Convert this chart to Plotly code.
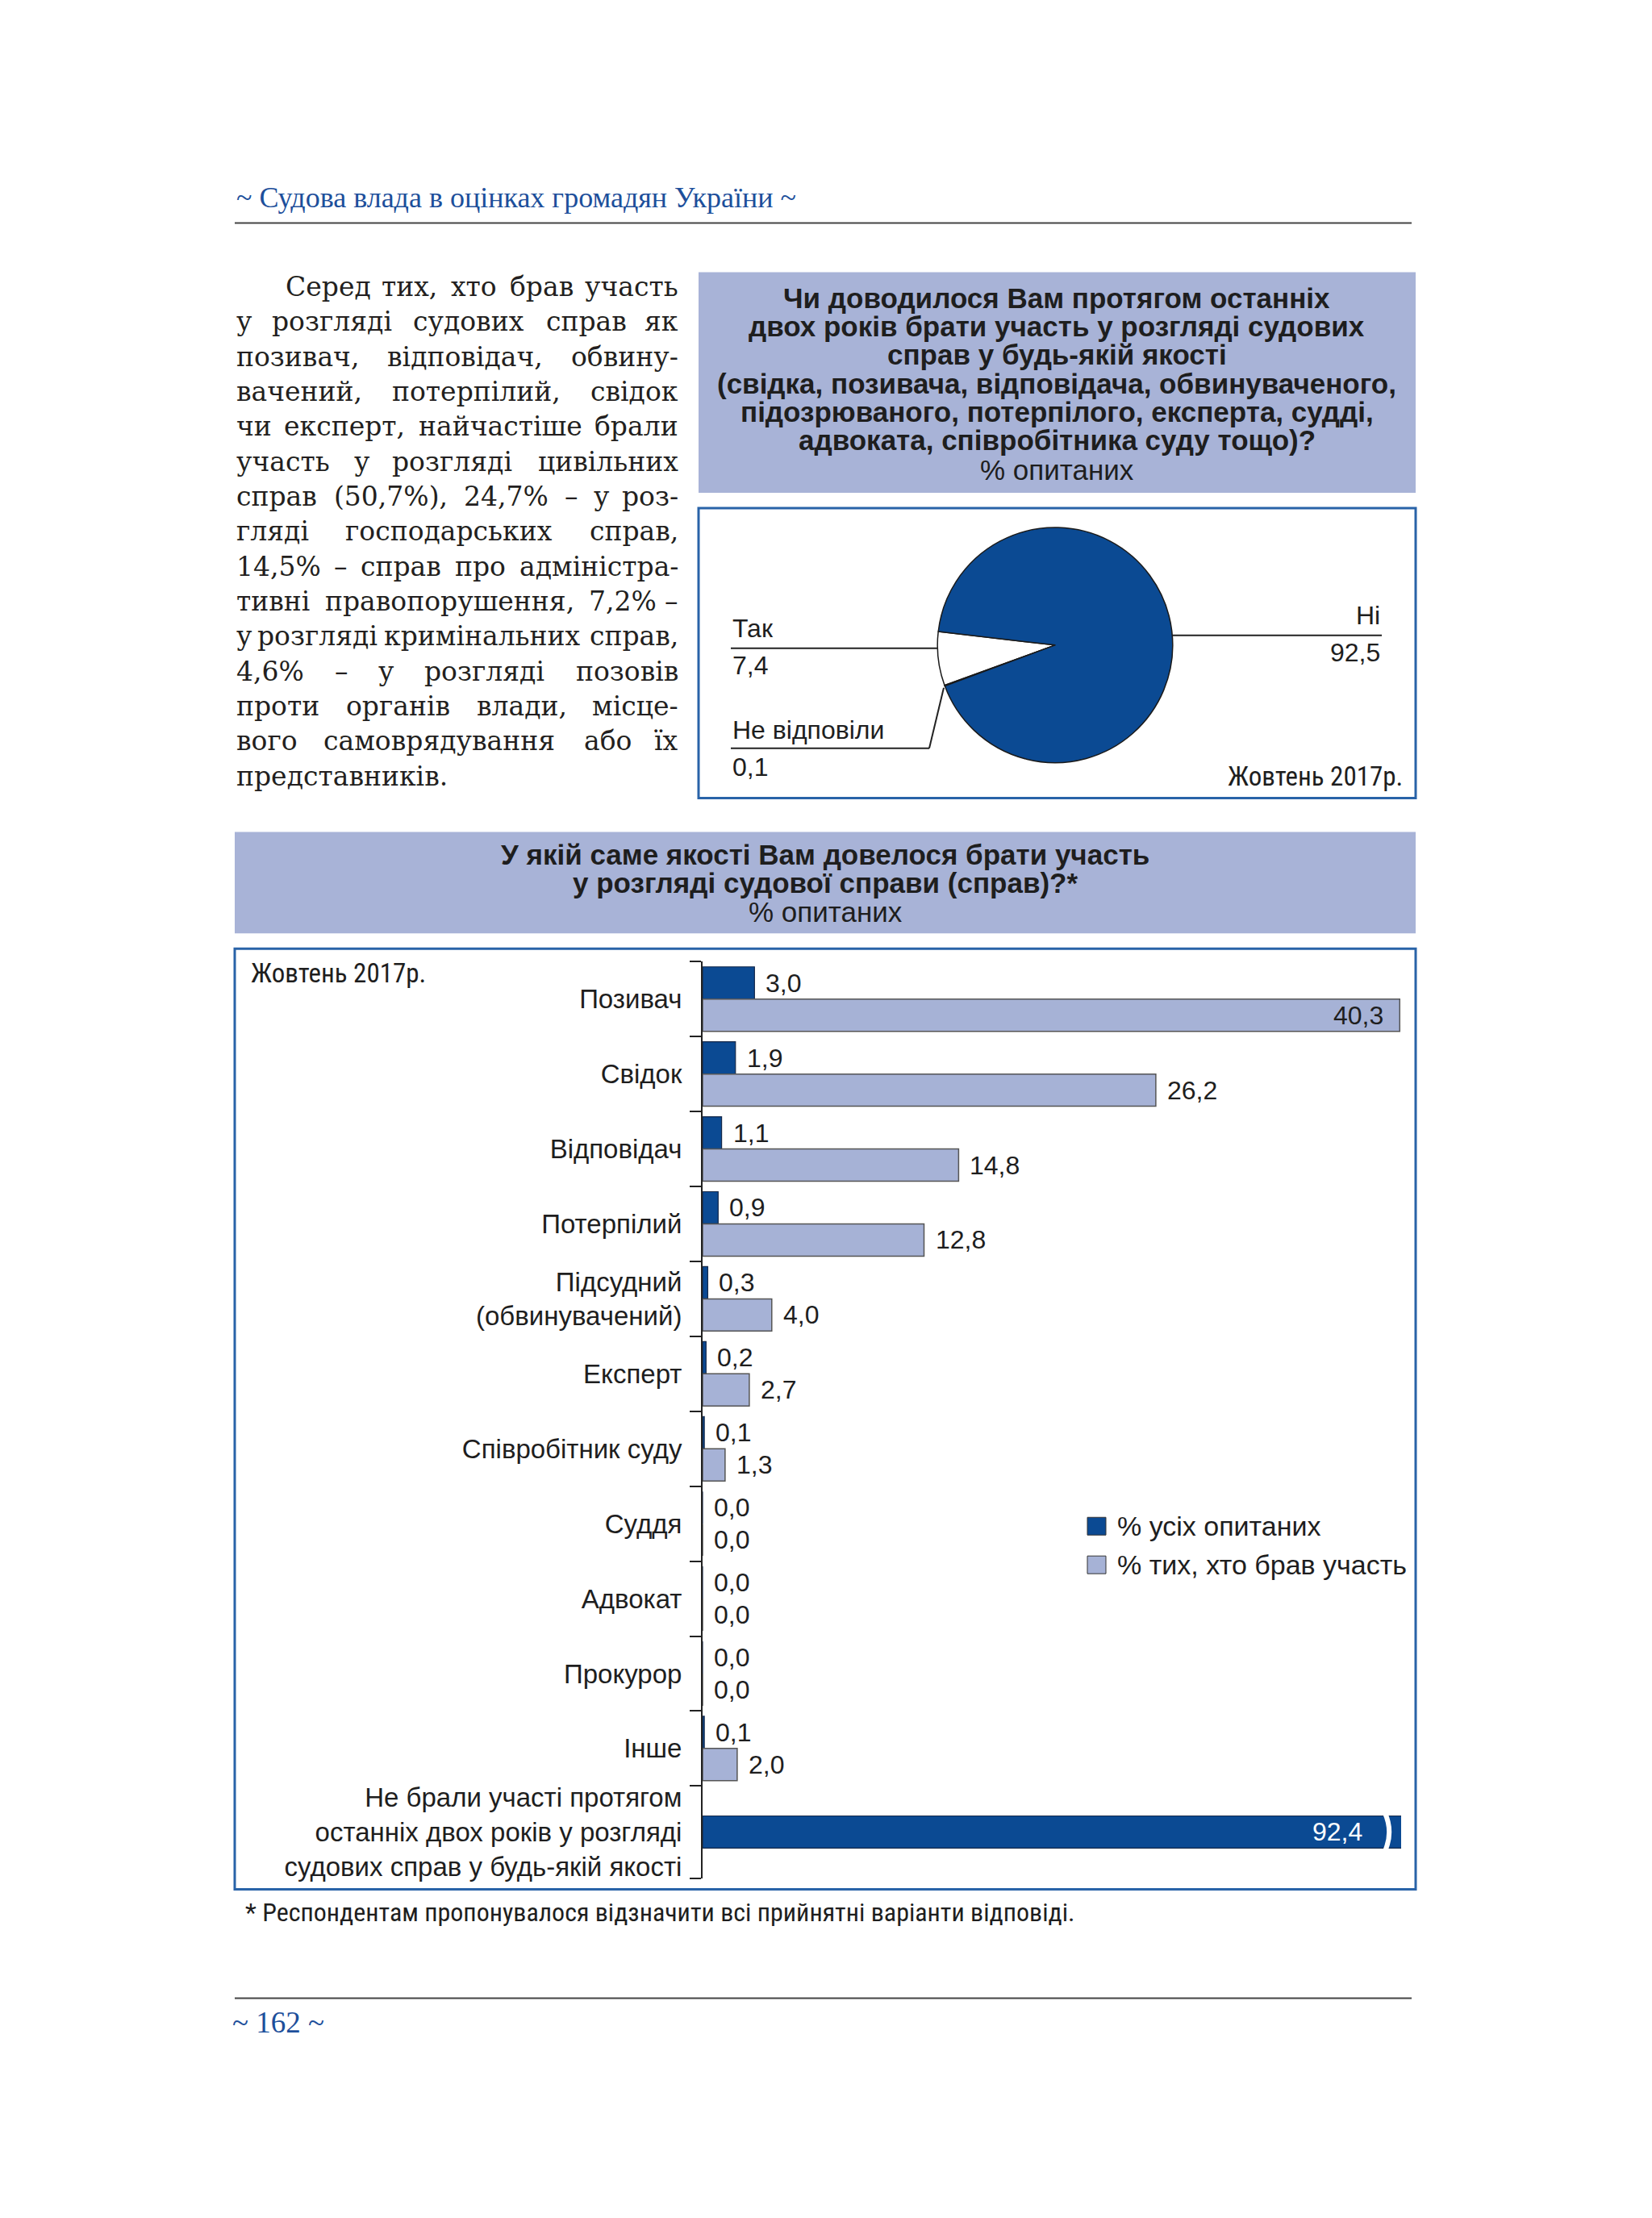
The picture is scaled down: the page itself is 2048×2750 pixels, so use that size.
import plotly.graph_objects as go

W, H = 2048, 2750
OFF = 8  # default page margin of the html body

# ---------------- data ----------------
categories = [
    "Позивач", "Свідок", "Відповідач", "Потерпілий",
    "Підсудний<br>(обвинувачений)", "Експерт", "Співробітник суду",
    "Суддя", "Адвокат", "Прокурор", "Інше",
    "Не брали участі протягом<br>останніх двох років у розгляді<br>судових справ у будь-якій якості",
]
all_respondents = [3.0, 1.9, 1.1, 0.9, 0.3, 0.2, 0.1, 0.0, 0.0, 0.0, 0.1, 92.4]
participants = [40.3, 26.2, 14.8, 12.8, 4.0, 2.7, 1.3, 0.0, 0.0, 0.0, 2.0, None]
series_names = ["% усіх опитаних", "% тих, хто брав участь"]

pie_labels = ["Так", "Не відповіли", "Ні"]
pie_values = [7.4, 0.1, 92.5]

header_text = "~ Судова влада в оцінках громадян України ~"
page_number = "~ 162 ~"
period_label = "Жовтень 2017р."
pie_title = [
    "Чи доводилося Вам протягом останніх",
    "двох років брати участь у розгляді судових",
    "справ у будь-якій якості",
    "(свідка, позивача, відповідача, обвинуваченого,",
    "підозрюваного, потерпілого, експерта, судді,",
    "адвоката, співробітника суду тощо)?",
]
bar_title = [
    "У якій саме якості Вам довелося брати участь",
    "у розгляді судової справи (справ)?*",
]
unit_text = "% опитаних"
footnote = "* Респондентам пропонувалося відзначити всі прийнятні варіанти відповіді."
paragraph = [
    "Серед тих, хто брав участь",
    "у розгляді судових справ як",
    "позивач, відповідач, обвину-",
    "вачений, потерпілий, свідок",
    "чи експерт, найчастіше брали",
    "участь у розгляді цивільних",
    "справ (50,7%), 24,7% – у роз-",
    "гляді господарських справ,",
    "14,5% – справ про адміністра-",
    "тивні правопорушення, 7,2% –",
    "у розгляді кримінальних справ,",
    "4,6% – у розгляді позовів",
    "проти органів влади, місце-",
    "вого самоврядування або їх",
    "представників.",
]

# ---------------- style ----------------
DARK = "#0b4a93"
LIGHT = "#a6b2d6"
BOX_FILL = "#a8b3d7"
BORDER = "#2963a8"
TXT = "#1e1e1e"
HEAD_BLUE = "#1d4f9b"
SANS = "Liberation Sans, Arial, Helvetica, sans-serif"
NARROW = "Liberation Sans Narrow, Arial Narrow, Roboto Condensed, sans-serif"
SERIF = "Liberation Serif, Times New Roman, serif"
BODY = "DejaVu Serif, serif"


def px(x):
    return (x - OFF) / W


def py(y):
    return 1 - (y - OFF) / H


def fmt(v):
    return f"{v:.1f}".replace(".", ",")


ann = []
shapes = []


def text(x, y, s, size=32, color=TXT, family=SANS, xanchor="left", yanchor="middle"):
    ann.append(dict(x=px(x), y=py(y), xref="paper", yref="paper", text=s, showarrow=False,
                    xanchor=xanchor, yanchor=yanchor, font=dict(size=size, color=color, family=family)))


def line(x0, y0, x1, y1, color="#222", width=2):
    shapes.append(dict(type="line", xref="paper", yref="paper", x0=px(x0), y0=py(y0),
                       x1=px(x1), y1=py(y1), line=dict(color=color, width=width)))


def rect(x0, y0, x1, y1, fill=None, lc=None, lw=0, layer="below"):
    shapes.append(dict(type="rect", xref="paper", yref="paper", x0=px(x0), y0=py(y0),
                       x1=px(x1), y1=py(y1), fillcolor=fill or "rgba(0,0,0,0)",
                       line=dict(color=lc or "rgba(0,0,0,0)", width=lw), layer=layer))


# ---------------- page header / footer ----------------
text(291, 245, header_text, size=36, color=HEAD_BLUE, family=SERIF)
line(291, 277, 1750, 277, color="#444", width=2)
line(291, 2481, 1750, 2481, color="#444", width=2)
text(286, 2511, page_number, size=37, color=HEAD_BLUE, family=SERIF)

# ---------------- justified paragraph ----------------
cw = {
    " ": .318, ",": .318, ".": .318, "%": .95, "(": .39, ")": .39, "-": .338, "–": .5,
    "0": .636, "1": .636, "2": .636, "3": .636, "4": .636, "5": .636, "6": .636, "7": .636,
    "8": .636, "9": .636,
    "а": .596, "б": .61, "в": .6, "г": .53, "д": .65, "е": .592, "ж": .93, "з": .54, "и": .68,
    "й": .68, "і": .32, "ї": .32, "к": .65, "л": .65, "м": .8, "н": .68, "о": .602, "п": .68,
    "р": .64, "с": .56, "т": .6, "у": .58, "ф": .85, "х": .59, "ц": .68, "ч": .65, "ш": .97,
    "щ": .97, "ь": .6, "ю": .89, "я": .63, "С": .73,
}
PF = 33
P_LEFT, P_RIGHT = 291, 843
for i, ln in enumerate(paragraph):
    yy = 356 + i * 43.4
    x0 = 352 if i == 0 else P_LEFT
    words = ln.split()
    if i == len(paragraph) - 1 or len(words) == 1:
        text(x0, yy, ln, size=PF, color="#231f20", family=BODY)
        continue
    widths = [sum(cw.get(c, .6) for c in w) * PF for w in words]
    gap = (P_RIGHT - x0 - sum(widths)) / (len(words) - 1)
    xx = x0
    for j, (w, wd) in enumerate(zip(words, widths)):
        if j == len(words) - 1:
            text(P_RIGHT, yy, w, size=PF, color="#231f20", family=BODY, xanchor="right")
        else:
            text(xx, yy, w, size=PF, color="#231f20", family=BODY)
        xx += wd + gap

# ---------------- pie block ----------------
rect(866, 338, 1755, 612, fill=BOX_FILL)
for k, t in enumerate(pie_title):
    text(1310, 370 + k * 35.3, "<b>" + t + "</b>", size=35, xanchor="center")
text(1310, 583, unit_text, size=35, xanchor="center")
rect(866, 631, 1755, 991, fill="white", lc=BORDER, lw=3)

PCX, PCY, PR = 1308, 801, 146
pie = go.Pie(
    values=pie_values, labels=pie_labels, sort=False, direction="counterclockwise",
    rotation=-110, marker=dict(colors=["white", DARK, DARK], line=dict(color="#1a1a1a", width=1.5)),
    textinfo="none", hoverinfo="none", showlegend=False,
    domain=dict(x=[px(PCX - PR), px(PCX + PR)], y=[py(PCY + PR), py(PCY - PR)]),
)

# pie labels with leader lines
text(906, 780, pie_labels[0], size=32)
text(906, 826, fmt(pie_values[0]), size=32)
line(906, 805, 1163, 805, width=2)
text(906, 906, pie_labels[1], size=32)
text(906, 952, fmt(pie_values[1]), size=32)
line(906, 929, 1152, 929, width=2)
line(1152, 929, 1170, 854, width=2)
text(1713, 764, pie_labels[2], size=32, xanchor="right")
text(1713, 810, fmt(pie_values[2]), size=32, xanchor="right")
line(1454, 789, 1713, 789, width=2)
text(1741, 964, period_label, size=33, family=NARROW, xanchor="right")

# ---------------- bar block ----------------
rect(291, 1033, 1755, 1159, fill=BOX_FILL)
for k, t in enumerate(bar_title):
    text(1023, 1061 + k * 35, "<b>" + t + "</b>", size=35, xanchor="center")
text(1023, 1132, unit_text, size=35, xanchor="center")
rect(291, 1178, 1755, 2346, fill="white", lc=BORDER, lw=3)
text(309, 1208, period_label, size=33, family=NARROW)

n = len(categories)
spans = [1.0] * (n - 1) + [1.23]
bounds = [0.0]
for s in spans:
    bounds.append(bounds[-1] + s)
centers = [(bounds[i] + bounds[i + 1]) / 2 for i in range(n)]
BAR_W = 0.43
xmax = max(v for v in participants if v is not None)

dark_offsets = [-BAR_W if p is not None else -BAR_W / 2 for p in participants]
bar_dark = go.Bar(
    orientation="h", y=centers, x=all_respondents, width=BAR_W, offset=dark_offsets,
    marker=dict(color=DARK, line=dict(color="#15294a", width=1.2)),
    name=series_names[0], hoverinfo="skip", xaxis="x", yaxis="y", showlegend=False,
)
idx_p = [i for i, p in enumerate(participants) if p is not None]
bar_light = go.Bar(
    orientation="h", y=[centers[i] for i in idx_p], x=[participants[i] for i in idx_p],
    width=BAR_W, offset=0,
    marker=dict(color=LIGHT, line=dict(color="#555555", width=1.5)),
    name=series_names[1], hoverinfo="skip", xaxis="x", yaxis="y", showlegend=False,
)

# value labels
for i, v in enumerate(all_respondents):
    yc = centers[i] - BAR_W / 2 if participants[i] is not None else centers[i]
    if v > xmax:
        ann.append(dict(x=xmax, y=yc, xref="x", yref="y", text=fmt(v), showarrow=False,
                        xanchor="right", xshift=-44, font=dict(size=32, color="white", family=SANS)))
        # break mark on the truncated bar
        xb = xmax - 19 / 21.46
        shapes.append(dict(type="path", xref="x", yref="y",
                           path=f"M {xb:.3f},{yc - 0.27:.3f} Q {xb + 0.55:.3f},{yc:.3f} {xb:.3f},{yc + 0.27:.3f}",
                           line=dict(color="white", width=6), layer="above"))
    else:
        ann.append(dict(x=v, y=yc, xref="x", yref="y", text=fmt(v), showarrow=False,
                        xanchor="left", xshift=12, font=dict(size=32, color=TXT, family=SANS)))
for i in idx_p:
    v = participants[i]
    yc = centers[i] + BAR_W / 2
    if v >= xmax:
        ann.append(dict(x=v, y=yc, xref="x", yref="y", text=fmt(v), showarrow=False,
                        xanchor="right", xshift=-18, font=dict(size=32, color=TXT, family=SANS)))
    else:
        ann.append(dict(x=v, y=yc, xref="x", yref="y", text=fmt(v), showarrow=False,
                        xanchor="left", xshift=12, font=dict(size=32, color=TXT, family=SANS)))

# legend (drawn as keys + labels)
leg_colors = [DARK, LIGHT]
for k, (nm, col) in enumerate(zip(series_names, leg_colors)):
    yk = 1895 + k * 48
    rect(1348, yk - 11, 1371, yk + 11, fill=col, lc="#333", lw=1, layer="above")
    text(1383, yk, nm, size=34)

# footnote
text(302, 2374, footnote, size=32, family=NARROW)

fig = go.Figure([pie, bar_dark, bar_light])
fig.update_layout(
    width=W, height=H, margin=dict(l=0, r=0, t=0, b=0),
    paper_bgcolor="white", plot_bgcolor="rgba(0,0,0,0)",
    barmode="overlay", showlegend=False,
    xaxis=dict(domain=[px(871), px(1737)], range=[0, xmax * 1.002], showgrid=False,
               zeroline=False, showticklabels=False, showline=False, fixedrange=True),
    yaxis=dict(domain=[py(2332), py(1194)], range=[bounds[-1], 0], tickmode="array",
               tickvals=centers, ticktext=categories, ticks="", showgrid=False, zeroline=False,
               showline=True, linecolor="#222", linewidth=2, ticklabelstandoff=17,
               tickfont=dict(size=33, color=TXT, family=SANS), fixedrange=True,
               minor=dict(tickmode="array", tickvals=bounds, ticks="outside", ticklen=14,
                          tickwidth=2, tickcolor="#222")),
    annotations=ann, shapes=shapes,
)
fig.write_html("out.html")
